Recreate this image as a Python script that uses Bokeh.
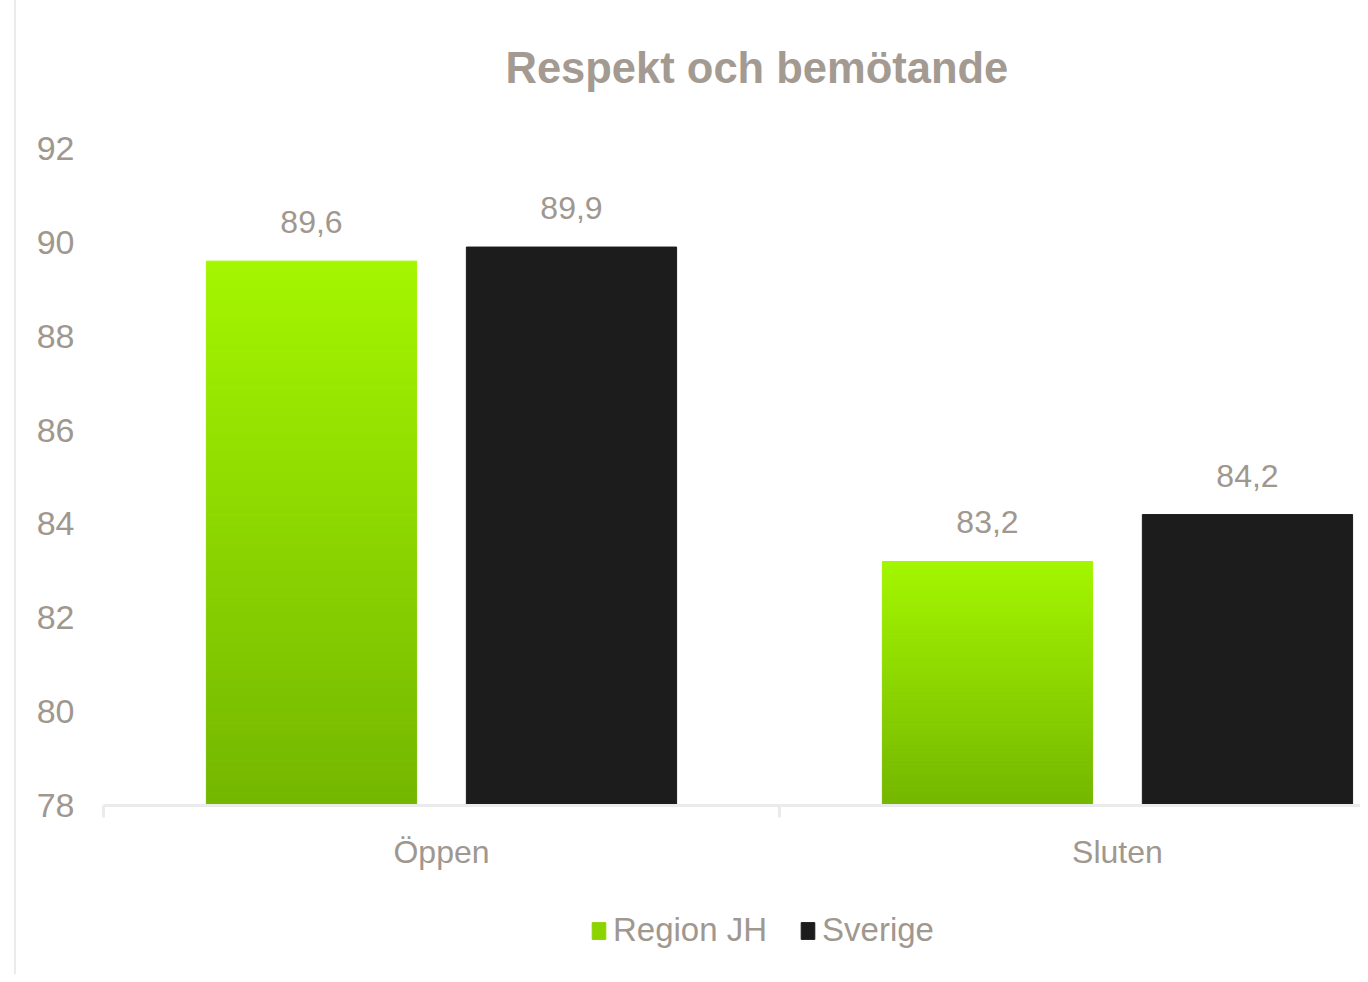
from bokeh.plotting import figure
from bokeh.models import (ColumnDataSource, FixedTicker, Range1d, Legend, LegendItem, Spacer)
from bokeh.layouts import row, column
from bokeh.embed import file_html
from bokeh.resources import INLINE
from bokeh.core.properties import value

# ---- data ----
categories = ["Öppen", "Sluten"]
series_names = ["Region JH", "Sverige"]
region_jh = [89.6, 83.2]
sverige = [89.9, 84.2]
y_ticks = [78, 80, 82, 84, 86, 88, 90, 92]
title_text = "Respekt och bemötande"

# ---- style ----
FONT = "Liberation Sans"
TEXT_COLOR = "#A0978F"
TITLE_COLOR = "#A39A92"
AXIS_COLOR = "#EBEBEB"
GREEN_TOP = (0xA4, 0xF6, 0x00)
GREEN_BOTTOM = (0x74, 0xB6, 0x00)
GREEN_MID = "#8CD400"
BLACK = "#1C1C1C"
BAR_W = 0.311
OFFSET = 0.1923
Y0 = y_ticks[0]

LEFT_GAP = 14
BORDER_W = 2
PW = 1360 - LEFT_GAP - BORDER_W
TITLE_H = 110
LEG_H = 84
MAIN_H = 974 - TITLE_H - LEG_H


def strip(height):
    f = figure(width=PW, height=height, output_backend="svg", toolbar_location=None,
               x_range=Range1d(0, 1257), y_range=Range1d(height, 0),
               x_axis_type=None, y_axis_type=None,
               min_border_left=0, min_border_right=0, min_border_top=0, min_border_bottom=0)
    f.outline_line_color = None
    f.grid.visible = False
    return f


# ---- title strip ----
tf = strip(TITLE_H)
tf.text(x=[402], y=[67], text=[title_text], text_align="left", text_baseline="alphabetic",
        text_font=value(FONT), text_font_size="43.5px", text_font_style="bold",
        text_color=TITLE_COLOR)

# ---- main chart ----
p = figure(width=PW, height=MAIN_H, output_backend="svg", toolbar_location=None,
           x_range=Range1d(0, 1.8595), y_range=Range1d(Y0, 92.064),
           min_border_left=103 - LEFT_GAP - BORDER_W, min_border_right=0,
           min_border_top=145 - TITLE_H, min_border_bottom=85)
p.outline_line_color = None
p.grid.visible = False
p.background_fill_color = "white"
p.border_fill_color = "white"

# green bars with vertical gradient
N = 60
gl, gr, gb, gt, gc = [], [], [], [], []
for i, v in enumerate(region_jh):
    cx = i + 0.5 - OFFSET
    for k in range(N):
        frac = (k + 0.5) / N
        c = tuple(int(round(GREEN_BOTTOM[j] + (GREEN_TOP[j] - GREEN_BOTTOM[j]) * frac)) for j in range(3))
        gl.append(cx - BAR_W / 2)
        gr.append(cx + BAR_W / 2)
        gb.append(Y0 + (v - Y0) * k / N)
        gt.append(Y0 + (v - Y0) * (k + 1) / N)
        gc.append("#%02x%02x%02x" % c)
gsrc = ColumnDataSource(dict(left=gl, right=gr, bottom=gb, top=gt, color=gc))
p.quad(left="left", right="right", bottom="bottom", top="top",
       fill_color="color", line_color="color", line_width=1, source=gsrc)

# black bars
bx = [i + 0.5 + OFFSET for i in range(len(categories))]
bsrc = ColumnDataSource(dict(x=bx, top=sverige))
p.vbar(x="x", top="top", bottom=Y0, width=BAR_W, fill_color=BLACK,
       line_color=BLACK, source=bsrc)

# value labels
lx = [i + 0.5 - OFFSET for i in range(len(categories))] + bx
ly = region_jh + sverige
lt = [f"{v:.1f}".replace(".", ",") for v in ly]
p.text(x=lx, y=ly, text=lt, text_align="center", text_baseline="bottom",
       y_offset=-28, text_font=value(FONT), text_font_size="32px",
       text_color=TEXT_COLOR)

# axes
p.yaxis.ticker = FixedTicker(ticks=y_ticks)
p.yaxis.axis_line_color = None
p.yaxis.major_tick_line_color = None
p.yaxis.minor_tick_line_color = None
p.yaxis.major_label_standoff = 23
p.yaxis.major_label_text_font = FONT
p.yaxis.major_label_text_font_size = "34px"
p.yaxis.major_label_text_color = TEXT_COLOR

p.xaxis.ticker = FixedTicker(ticks=[i + 0.5 for i in range(len(categories))],
                             minor_ticks=list(range(len(categories) + 1)))
p.xaxis.major_label_overrides = {i + 0.5: c for i, c in enumerate(categories)}
p.xaxis.axis_line_color = AXIS_COLOR
p.xaxis.axis_line_width = 3
p.xaxis.major_tick_line_color = None
p.xaxis.minor_tick_line_color = AXIS_COLOR
p.xaxis.minor_tick_line_width = 3
p.xaxis.minor_tick_out = 12
p.xaxis.minor_tick_in = 0
p.xaxis.major_label_standoff = 16
p.xaxis.major_label_text_font = FONT
p.xaxis.major_label_text_font_size = "32px"
p.xaxis.major_label_text_color = TEXT_COLOR

# ---- legend strip ----
lg = figure(width=PW, height=LEG_H, output_backend="svg", toolbar_location=None,
            x_range=Range1d(0, 1), y_range=Range1d(0, 1),
            x_axis_type=None, y_axis_type=None,
            min_border_left=0, min_border_right=0, min_border_top=0, min_border_bottom=0)
lg.outline_line_color = None
lg.grid.visible = False
# swatch renderers kept outside the visible range; only their legend glyphs show
g_sw = lg.quad(left=[5], right=[6], bottom=[5], top=[6], fill_color=GREEN_MID, line_color=GREEN_MID)
b_sw = lg.quad(left=[5], right=[6], bottom=[5], top=[6], fill_color=BLACK, line_color=BLACK)
legend = Legend(items=[LegendItem(label=series_names[0], renderers=[g_sw]),
                       LegendItem(label=series_names[1], renderers=[b_sw])],
                orientation="horizontal", location=(487, 25))
legend.label_text_font = FONT
legend.label_text_font_size = "33px"
legend.label_text_color = TEXT_COLOR
legend.glyph_width = 17
legend.glyph_height = 21
legend.label_standoff = 6
legend.spacing = 32
legend.padding = 0
legend.margin = 0
legend.border_line_color = None
legend.background_fill_alpha = 0
lg.add_layout(legend)

# chart border on the left
gap = Spacer(width=LEFT_GAP, height=974)
border = Spacer(width=BORDER_W, height=974, styles={"background-color": "#EBEBEB"})
layout = row(gap, border, column(tf, p, lg, spacing=0), spacing=0)

open("out.html", "w").write(file_html(layout, INLINE))
